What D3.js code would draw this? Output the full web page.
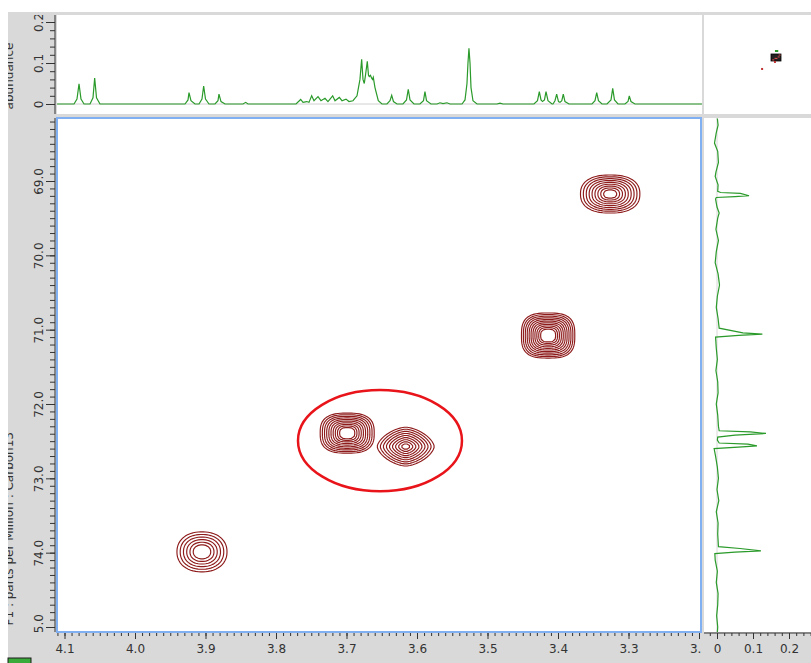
<!DOCTYPE html>
<html>
<head>
<meta charset="utf-8">
<script src="https://cdn.jsdelivr.net/npm/d3@7"></script>
<style>
body { margin: 0; background: #fff; }
svg { display: block; font-family: "DejaVu Sans", sans-serif; }
</style>
</head>
<body>
<svg id="chart" width="811" height="663"></svg>
<script>
// proton 1D trace on top, [ppm, abundance]
let topTrace = [
  [4.1106, 0], [4.0865, 0], [4.0823, 0.012], [4.0794, 0.049], [4.0766, 0.012], [4.0723, 0],
  [4.0638, 0], [4.0596, 0.015], [4.0572, 0.063], [4.0546, 0.015], [4.0497, 0],
  [3.9291, 0], [3.9248, 0.010], [3.9234, 0.028], [3.9206, 0.008], [3.9149, 0],
  [3.9092, 0], [3.9050, 0.012], [3.9026, 0.044], [3.9000, 0.012], [3.8950, 0],
  [3.8865, 0], [3.8823, 0.008], [3.8809, 0.024], [3.8780, 0.006], [3.8723, 0],
  [3.8468, 0], [3.8430, 0.004], [3.8397, 0],
  [3.7716, 0], [3.7650, 0.011], [3.7617, 0.004], [3.7565, 0.006], [3.7532, 0.004],
  [3.7494, 0.020], [3.7461, 0.008], [3.7404, 0.018], [3.7362, 0.008], [3.7305, 0.014],
  [3.7263, 0.006], [3.7196, 0.020], [3.7163, 0.008], [3.7102, 0.016], [3.7064, 0.008],
  [3.7007, 0.012], [3.6965, 0.006], [3.6908, 0.008], [3.6851, 0.020], [3.6809, 0.060],
  [3.6785, 0.109], [3.6766, 0.060], [3.6748, 0.050], [3.6731, 0.070], [3.6705, 0.104],
  [3.6688, 0.070], [3.6677, 0.067], [3.6660, 0.070], [3.6643, 0.063], [3.6631, 0.060],
  [3.6620, 0.065], [3.6596, 0.040], [3.6549, 0.008], [3.6497, 0],
  [3.6426, 0], [3.6383, 0.008], [3.6359, 0.021], [3.6334, 0.006], [3.6284, 0],
  [3.6199, 0], [3.6149, 0.010], [3.6124, 0.036], [3.6099, 0.010], [3.6043, 0],
  [3.5958, 0], [3.5908, 0.008], [3.5887, 0.030], [3.5865, 0.008], [3.5802, 0],
  [3.5716, 0], [3.5674, 0.003], [3.5631, 0.001], [3.5575, 0.003], [3.5532, 0],
  [3.5362, 0], [3.5319, 0.010], [3.5291, 0.050], [3.5277, 0.100], [3.5263, 0.136],
  [3.5248, 0.100], [3.5234, 0.040], [3.5206, 0.008], [3.5149, 0],
  [3.4866, 0], [3.4823, 0.002], [3.4780, 0],
  [3.4341, 0], [3.4291, 0.008], [3.4265, 0.030], [3.4241, 0.010], [3.4220, 0.006],
  [3.4192, 0.010], [3.4170, 0.030], [3.4142, 0.008], [3.4085, 0],
  [3.4071, 0], [3.4043, 0.008], [3.4019, 0.024], [3.3993, 0.006], [3.3972, 0.004],
  [3.3946, 0.008], [3.3925, 0.024], [3.3901, 0.006], [3.3844, 0],
  [3.3518, 0], [3.3475, 0.008], [3.3451, 0.028], [3.3426, 0.008], [3.3376, 0],
  [3.3305, 0], [3.3248, 0.010], [3.3224, 0.038], [3.3199, 0.010], [3.3149, 0],
  [3.3050, 0], [3.3007, 0.006], [3.2989, 0.020], [3.2965, 0.006], [3.2908, 0],
  [3.1958, 0]
];

// carbon 1D trace on the right, [ppm, abundance]
let sideTrace = [
  [68.16, 0.001], [68.25, 0.003], [68.35, -0.002], [68.49, -0.007], [68.60, 0.002],
  [68.75, 0.004], [68.88, -0.003], [68.94, -0.005], [69.05, 0.003], [69.14, 0.002],
  [69.155, 0.010], [69.166, 0.065], [69.198, 0.089], [69.209, 0.050], [69.222, -0.002],
  [69.242, -0.004], [69.35, 0.000], [69.43, 0.006], [69.50, 0.002], [69.65, -0.003],
  [69.80, 0.004], [69.95, -0.002], [70.10, -0.005], [70.25, 0.003], [70.40, 0.007],
  [70.55, 0.001], [70.70, -0.002], [70.85, 0.003], [70.98, 0.006],
  [71.042, 0.072], [71.059, 0.126], [71.077, 0.060], [71.10, -0.004],
  [71.25, -0.002], [71.40, 0.001], [71.55, -0.003], [71.70, 0.002], [71.85, 0.003],
  [72.00, -0.002], [72.15, 0.002], [72.30, 0.004], [72.36, 0.006],
  [72.374, 0.092], [72.396, 0.136], [72.419, 0.050], [72.445, 0.002], [72.486, 0.001],
  [72.525, 0.006], [72.54, 0.086], [72.563, 0.111], [72.576, 0.070], [72.60, -0.008],
  [72.70, -0.004], [72.85, 0.001], [73.00, 0.004], [73.15, 0.000], [73.30, 0.005],
  [73.45, -0.002], [73.60, 0.003], [73.75, 0.002], [73.92, 0.004],
  [73.944, 0.064], [73.976, 0.122], [73.993, 0.050], [74.013, -0.006],
  [74.10, -0.005], [74.25, 0.001], [74.40, -0.002], [74.55, 0.003], [74.70, 0.002],
  [74.85, -0.001], [75.00, 0.002], [75.07, 0.001]
];

// HSQC cross peaks
let peakH = [3.326, 3.414, 3.699, 3.616, 3.905];
let peakC = [69.175, 71.079, 72.392, 72.573, 73.989];
let peakWH = [0.0421, 0.0378, 0.0383, 0.0404, 0.0355];
let peakWC = [0.256, 0.303, 0.269, 0.262, 0.269];
let peakLevels = [9, 11, 10, 9, 6];
let peakInner = [0.22, 0.28, 0.28, 0.15, 0.35];
let peakShape = [2.4, 3.0, 2.8, 1.6, 2.2];

// ticks
let hTicks = [4.1, 4.0, 3.9, 3.8, 3.7, 3.6, 3.5, 3.4, 3.3, 3.2];
let cTicks = [69, 70, 71, 72, 73, 74, 75];
let abTicks = [0, 0.1, 0.2];

// hand drawn ellipse around the two peaks
let markH = 3.6525, markC = 72.493, markRH = 0.1163, markRC = 0.68;

// overview thumbnail: whole-spectrum peaks outside the current view
let overH = [4.92, 3.75];
let overC = [82.9, 76.0];

let svg = d3.select('#chart');
let defs = svg.append('defs');
let green = '#2a9a2a';
let ink = '#333';

// panel edges
let L = 57, R = 701, T = 118, B = 632;
let TT = 15, TB = 114;
let RL = 704, RR = 811;

let x = d3.scaleLinear().domain([4.1, 3.2]).range([64.5, 699]);
let y = d3.scaleLinear().domain([69, 75]).range([181, 627]);
let yTop = d3.scaleLinear().domain([0, 0.2]).range([104, 22]);
let xSide = d3.scaleLinear().domain([0, 0.2]).range([717, 789]);

function clip(id, x0, y0, w, h) {
  defs.append('clipPath').attr('id', id)
    .append('rect').attr('x', x0).attr('y', y0).attr('width', w).attr('height', h);
  return 'url(#' + id + ')';
}

// background frame
svg.append('rect').attr('x', 8).attr('y', 12).attr('width', 803).attr('height', 651).attr('fill', '#d9d9d9');
svg.append('rect').attr('x', L).attr('y', TT).attr('width', 645).attr('height', TB - TT).attr('fill', '#fff');
svg.append('rect').attr('x', RL).attr('y', TT).attr('width', RR - RL).attr('height', TB - TT).attr('fill', '#fff');
svg.append('rect').attr('x', RL).attr('y', T).attr('width', RR - RL).attr('height', B - T).attr('fill', '#fff');
svg.append('rect').attr('x', L).attr('y', T).attr('width', R - L).attr('height', B - T).attr('fill', '#fff');

function styleAxis(g) {
  g.select('.domain').remove();
  g.selectAll('line').attr('stroke', ink);
  g.selectAll('text').attr('fill', ink).attr('font-size', 12).attr('font-family', '"DejaVu Sans", sans-serif');
}

let fmt1 = d3.format('.1f');
let fmtAb = d => d === 0 ? '0' : fmt1(d);

// bottom axis of main plot
let hMinor = d3.range(320, 412).map(d => d / 100);
let gx = svg.append('g').attr('clip-path', clip('cx', L - 2, B, R - L + 3, 31));
gx.append('g').attr('transform', 'translate(0,' + (B + 1) + ')')
  .call(d3.axisBottom(x).tickValues(hMinor).tickSize(3).tickFormat(''))
  .call(styleAxis);
gx.append('g').attr('transform', 'translate(0,' + (B + 1) + ')')
  .call(d3.axisBottom(x).tickValues(hTicks).tickSize(6).tickPadding(5).tickFormat(fmt1))
  .call(styleAxis);

// left axis of main plot
let cMinor = d3.range(682, 751).map(d => d / 10);
let gy = svg.append('g').attr('clip-path', clip('cy', 8, T, L - 8, B - T));
gy.append('g').attr('transform', 'translate(55,0)')
  .call(d3.axisLeft(y).tickValues(cMinor).tickSize(5).tickFormat(''))
  .call(styleAxis);
gy.append('g').attr('transform', 'translate(55,0)')
  .call(d3.axisLeft(y).tickValues(cTicks).tickSize(9).tickFormat(fmt1))
  .call(styleAxis)
  .selectAll('text')
  .attr('transform', 'rotate(-90)').attr('x', 0).attr('y', -12).attr('dy', 0)
  .attr('text-anchor', 'middle');
gy.append('line').attr('x1', 55).attr('x2', 55).attr('y1', T).attr('y2', B).attr('stroke', ink);

// left axis of top trace
let abMinor = d3.range(0, 21, 2).map(d => d / 100);
let ga = svg.append('g').attr('clip-path', clip('ca', 8, TT, L - 8, TB - TT));
ga.append('g').attr('transform', 'translate(55,0)')
  .call(d3.axisLeft(yTop).tickValues(abMinor).tickSize(5).tickFormat(''))
  .call(styleAxis);
ga.append('g').attr('transform', 'translate(55,0)')
  .call(d3.axisLeft(yTop).tickValues(abTicks).tickSize(9).tickFormat(fmtAb))
  .call(styleAxis)
  .selectAll('text')
  .attr('transform', 'rotate(-90)').attr('x', 0).attr('y', -12).attr('dy', 0)
  .attr('text-anchor', 'middle');
ga.append('line').attr('x1', 55).attr('x2', 55).attr('y1', TT).attr('y2', TB).attr('stroke', ink);

// bottom axis of side trace
let sMinor = d3.range(-2, 27, 2).map(d => d / 100);
let gs = svg.append('g').attr('clip-path', clip('cs', RL, B, RR - RL, 31));
gs.append('g').attr('transform', 'translate(0,' + (B + 1) + ')')
  .call(d3.axisBottom(xSide).tickValues(sMinor).tickSize(3).tickFormat(''))
  .call(styleAxis);
gs.append('g').attr('transform', 'translate(0,' + (B + 1) + ')')
  .call(d3.axisBottom(xSide).tickValues(abTicks).tickSize(6).tickPadding(5).tickFormat(fmtAb))
  .call(styleAxis);
gs.append('line').attr('x1', RL).attr('x2', RR).attr('y1', B + 1).attr('y2', B + 1).attr('stroke', ink);

// axis titles, cut by the frame like in the screenshot
let gt = svg.append('g').attr('clip-path', clip('ct', 8, 0, 40, 663));
gt.append('text').attr('transform', 'translate(13,76) rotate(-90)')
  .attr('text-anchor', 'middle').attr('font-size', 12).attr('fill', ink).text('abundance');
gt.append('text').attr('transform', 'translate(13,432) rotate(-90)')
  .attr('text-anchor', 'end').attr('font-size', 12).attr('fill', ink)
  .text('F1 : parts per Million : Carbon13');

// top trace
let gTop = svg.append('g').attr('clip-path', clip('ctop', L, TT, 645, TB - TT));
gTop.append('line').attr('x1', L).attr('x2', 702).attr('y1', yTop(0)).attr('y2', yTop(0))
  .attr('stroke', '#d0d0d0');
gTop.append('path').datum(topTrace)
  .attr('d', d3.line().x(d => x(d[0])).y(d => yTop(d[1])))
  .attr('fill', 'none').attr('stroke', green).attr('stroke-width', 1.2);

// side trace
let gSide = svg.append('g').attr('clip-path', clip('cside', RL, T, RR - RL, B - T));
gSide.append('line').attr('x1', xSide(0)).attr('x2', xSide(0)).attr('y1', T).attr('y2', B)
  .attr('stroke', '#d8d8d8');
gSide.append('path').datum(sideTrace)
  .attr('d', d3.line().x(d => xSide(d[1])).y(d => y(d[0])))
  .attr('fill', 'none').attr('stroke', green).attr('stroke-width', 1.2);

// cross peak contours (coarse grid gives the blocky rings of the screenshot)
let gMain = svg.append('g').attr('clip-path', clip('cmain', L, T, R - L, B - T));
let n = 24, span = 1.2;
peakH.forEach(function (h, k) {
  let p = peakShape[k];
  let vals = new Array(n * n);
  for (let j = 0; j < n; j++) {
    for (let i = 0; i < n; i++) {
      let u = ((i + 0.5) / n) * 2 * span - span;
      let v = ((j + 0.5) / n) * 2 * span - span;
      vals[i + j * n] = -Math.pow(Math.pow(Math.abs(u), p) + Math.pow(Math.abs(v), p), 1 / p);
    }
  }
  let lv = peakLevels[k];
  let radii = d3.range(lv).map(m => 1 - m * (1 - peakInner[k]) / (lv - 1));
  let rings = d3.contours().size([n, n]).thresholds(radii.map(r => -r))(vals);
  let proj = d3.geoTransform({
    point: function (gx, gy) {
      let u = (gx / n) * 2 * span - span;
      let v = (gy / n) * 2 * span - span;
      this.stream.point(x(h - u * peakWH[k]), y(peakC[k] + v * peakWC[k]));
    }
  });
  gMain.selectAll(null).data(rings).join('path')
    .attr('d', d3.geoPath(proj))
    .attr('fill', 'none').attr('stroke', '#8e1b1b').attr('stroke-width', 1.15);
});

// red ellipse annotation
gMain.append('ellipse')
  .attr('cx', x(markH)).attr('cy', y(markC))
  .attr('rx', x(markH - markRH) - x(markH)).attr('ry', y(markC + markRC) - y(markC))
  .attr('fill', 'none').attr('stroke', '#e8141a').attr('stroke-width', 2.5);

// main plot border
svg.append('rect').attr('x', L).attr('y', T).attr('width', R - L).attr('height', B - T)
  .attr('fill', 'none').attr('stroke', '#80b0f2').attr('stroke-width', 2);

// overview thumbnail
let ovX = d3.scaleLinear().domain([4.11, 3.2]).range([771, 781]);
let ovY = d3.scaleLinear().domain([68.15, 75.05]).range([54, 61]);
svg.append('rect').attr('x', ovX(3.75)).attr('y', 50).attr('width', ovX(3.45) - ovX(3.75)).attr('height', 2)
  .attr('fill', green);
svg.append('rect').attr('x', ovX(4.11)).attr('y', ovY(68.15))
  .attr('width', ovX(3.2) - ovX(4.11)).attr('height', ovY(75.05) - ovY(68.15))
  .attr('fill', '#222').attr('stroke', '#000').attr('stroke-width', 0.8);
svg.selectAll(null).data(peakH).join('rect')
  .attr('x', d => ovX(d) - 1).attr('y', (d, i) => ovY(peakC[i]) - 0.5)
  .attr('width', 2).attr('height', 1).attr('fill', '#e05050');
svg.selectAll(null).data(overH).join('rect')
  .attr('x', d => ovX(d) - 1).attr('y', (d, i) => ovY(overC[i]) - 1)
  .attr('width', 2).attr('height', 2).attr('fill', '#c03030');

// small green tab at the bottom left
svg.append('rect').attr('x', 8).attr('y', 658).attr('width', 23).attr('height', 6)
  .attr('fill', '#3aab3a').attr('stroke', '#1d1d1d').attr('stroke-width', 1);
</script>
</body>
</html>
